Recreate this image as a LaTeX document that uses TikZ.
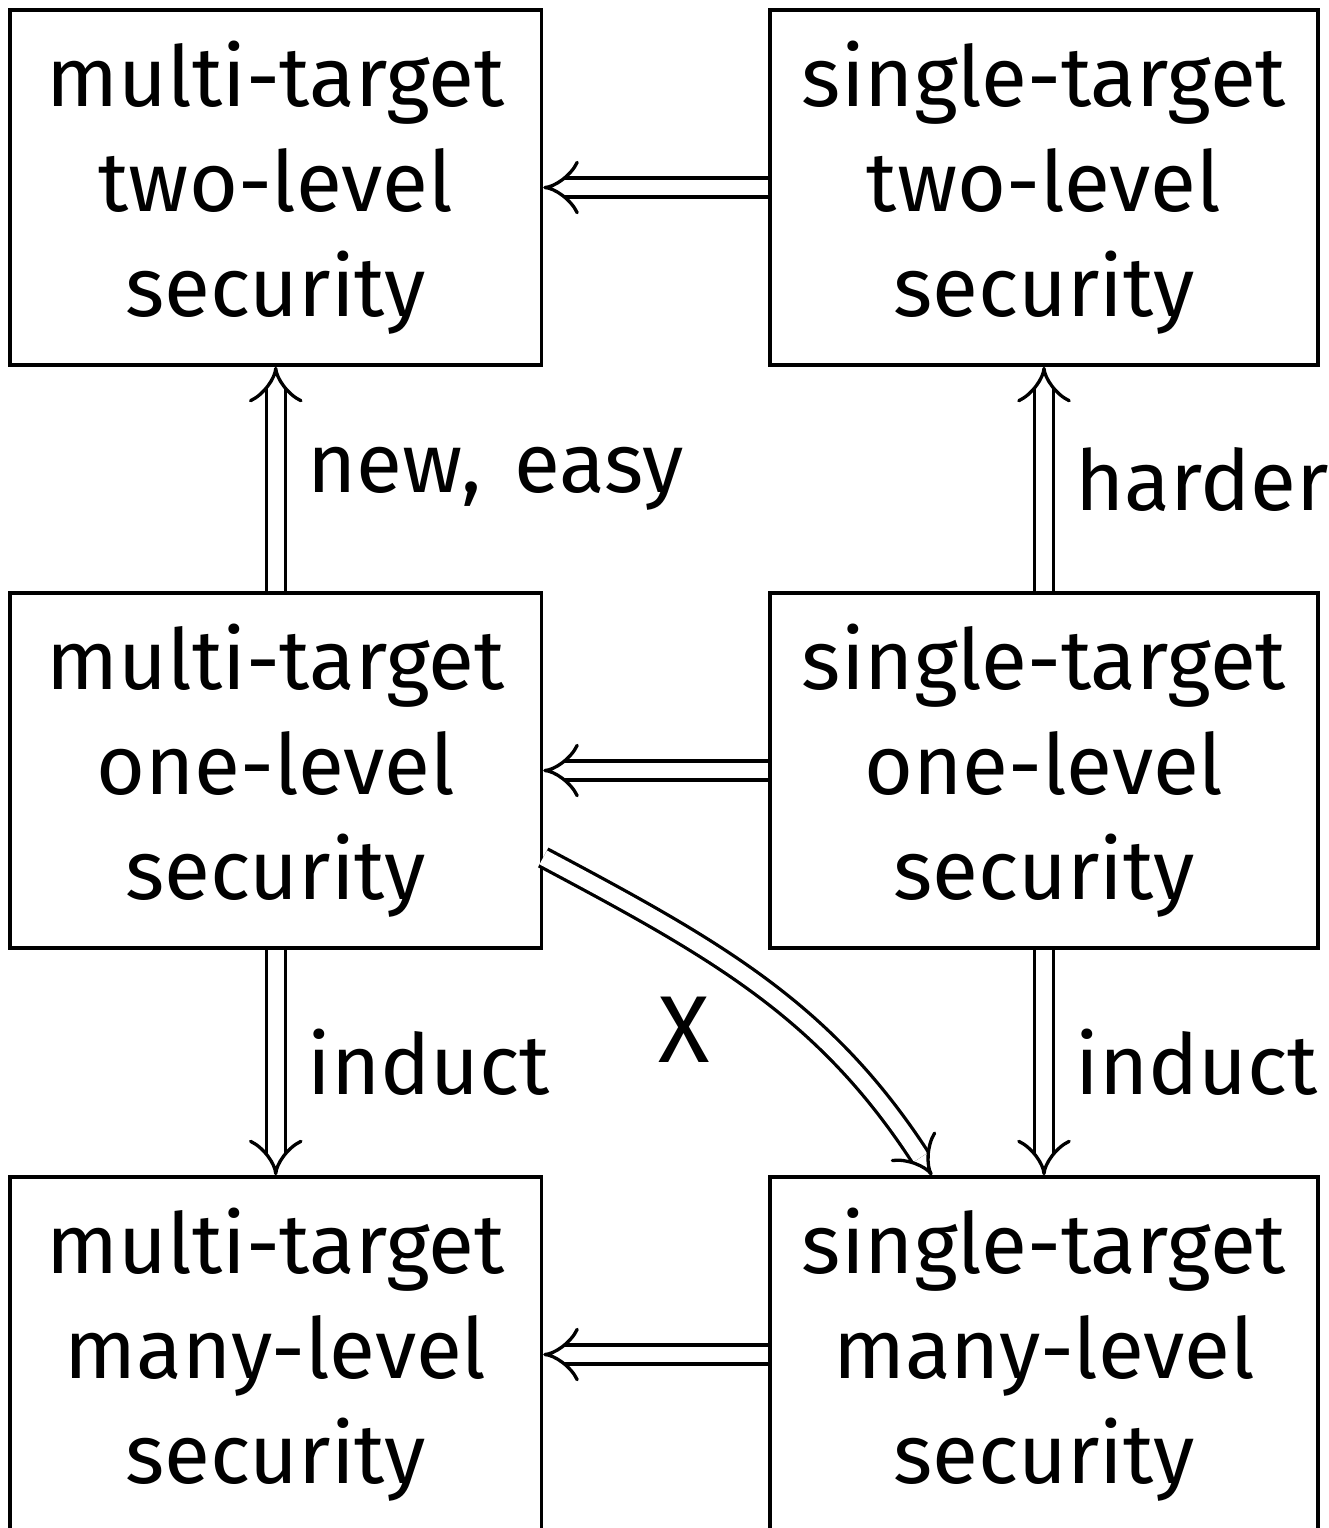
\documentclass[tikz,border=0pt]{standalone}
\usepackage{fontspec}
\setmainfont{Fira Sans}
\usetikzlibrary{arrows.meta}
\tikzset{
  x=0.1pt, y=0.1pt,
  secbox/.style={draw, line width=0.35pt, minimum height=35.5pt, inner sep=0pt,
    align=center, font=\fontsize{8.4}{10.5}\selectfont},
  dbl/.style={double, double distance=1.57pt, line width=0.33pt,
    -{Implies[length=4.3pt, width=5.3pt]}},
  lab/.style={anchor=west, inner sep=3pt, font=\fontsize{8.4}{10.5}\selectfont}
}
\begin{document}
\begin{tikzpicture}
\useasboundingbox (0,0) rectangle (1329,-1528);
\clip (0,0) rectangle (1329,-1528);
% security notions, one row per number of levels
\node[secbox, minimum width=53.15pt] (tl) at (275.75,-187.5) {multi-target\\two-level\\security};
\node[secbox, minimum width=54.8pt]  (tr) at (1044,-187.5)   {single-target\\two-level\\security};
\node[secbox, minimum width=53.15pt] (ml) at (275.75,-770.5) {multi-target\\one-level\\security};
\node[secbox, minimum width=54.8pt]  (mr) at (1044,-770.5)   {single-target\\one-level\\security};
\node[secbox, minimum width=53.15pt] (bl) at (275.75,-1354.5) {multi-target\\many-level\\security};
\node[secbox, minimum width=54.8pt]  (br) at (1044,-1354.5)   {single-target\\many-level\\security};
% implications
\draw[dbl] (tr) -- (tl);
\draw[dbl] (mr) -- (ml);
\draw[dbl] (br) -- (bl);
\draw[dbl] (ml) -- node[lab] {new,\hspace{0.4em}easy} (tl);
\draw[dbl] (mr) -- node[lab] {harder} (tr);
\draw[dbl] (ml) -- node[lab] {induct} (bl);
\draw[dbl] (mr) -- node[lab] {induct} (br);
\draw[dbl] (ml.-18) to[out=-28, in=123] node[pos=0.45, anchor=north east, inner sep=2pt,
  xshift=-1.2pt, font=\fontsize{9.5}{11}\selectfont] (xl) {X} (br.122);
\end{tikzpicture}
\end{document}
